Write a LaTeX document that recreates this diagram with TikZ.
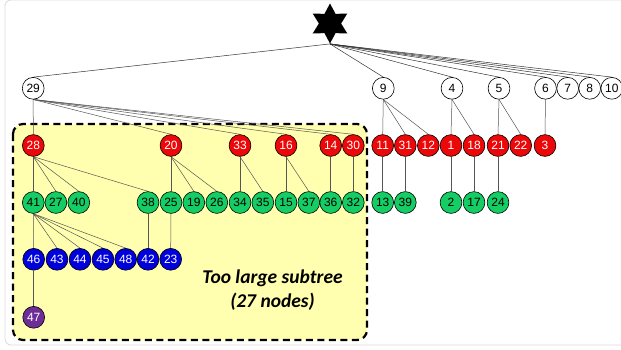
\documentclass[tikz,border=0pt]{standalone}
\usepackage{fontspec}
\setmainfont{Liberation Sans}
\newfontfamily\boxfont{Carlito}
\usetikzlibrary{shapes.geometric}
\pgfdeclarelayer{back}
\pgfdeclarelayer{edges}
\pgfsetlayers{back,edges,main}
\definecolor{cred}{RGB}{236,8,8}
\definecolor{cgreen}{RGB}{20,205,100}
\definecolor{cblue}{RGB}{0,0,220}
\definecolor{cpurple}{RGB}{110,45,150}
\definecolor{cyellow}{RGB}{255,255,175}
\definecolor{cedge}{RGB}{85,85,85}
\tikzset{
  base/.style={circle,draw=black,line width=0.6pt,minimum size=21.8pt,inner sep=0pt,font=\fontsize{12}{12}\selectfont},
  wnode/.style={base,fill=white,text=black},
  rnode/.style={base,fill=cred,text=white},
  gnode/.style={base,fill=cgreen,text=black},
  bnode/.style={base,fill=cblue,text=white},
  pnode/.style={base,fill=cpurple,text=white},
  edge/.style={draw=cedge,line width=0.5pt},
}
\begin{document}
\begin{tikzpicture}[x=1pt,y=-1pt]
\useasboundingbox (0,0) rectangle (621,349);
\begin{pgfonlayer}{back}
\draw[gray!30,line width=0.8pt,rounded corners=6pt] (5,0) rectangle (640,345);
\draw[fill=cyellow,line width=2.2pt,dash pattern=on 7pt off 4.5pt,rounded corners=10pt] (13,124) rectangle (367,340);
\end{pgfonlayer}
% root star
\node[star,star points=6,star point ratio=1.8,minimum size=40pt,inner sep=0pt,fill=black] (root) at (330,23.5) {};
% level 1
\node[wnode] (n29) at (33.2,88.3) {29};
\node[wnode] (n9) at (383.3,88.3) {9};
\node[wnode] (n4) at (452,88.3) {4};
\node[wnode] (n5) at (499,88.3) {5};
\node[wnode] (n6) at (545.5,88.3) {6};
\node[wnode] (n7) at (567.7,88.3) {7};
\node[wnode] (n8) at (589.7,88.3) {8};
\node[wnode] (n10) at (611.8,88.3) {10};
% level 2
\foreach \n/\x in {28/33.3,20/171,33/240,16/286,14/330.7,30/353.3,11/382.7,31/405.3,12/428.3,1/451,18/474,21/498,22/520.7,3/545}
  \node[rnode] (n\n) at (\x,145.5) {\n};
% level 3
\foreach \n/\x in {41/33.3,27/55.9,40/78.8,38/148,25/171,19/193.8,26/216.8,34/240,35/262.8,15/286,37/308.8,36/330.7,32/353.3,13/382.7,39/405.3,2/451,17/474,24/498}
  \node[gnode] (n\n) at (\x,202.5) {\n};
% level 4
\foreach \n/\x in {46/33.7,43/57,44/80,45/103,48/125.7,42/148,23/170.7}
  \node[bnode] (n\n) at (\x,259.3) {\n};
% level 5
\node[pnode] (n47) at (33.7,317.3) {47};
% edges
\begin{pgfonlayer}{edges}
\foreach \c in {29,9,4,5,6,7,8,10}
  \draw[edge,draw=black!80] (root.south) -- (n\c.north);
\foreach \p/\c in {29/28,29/20,29/33,29/16,29/14,29/30,9/11,9/31,9/12,4/1,4/18,5/21,5/22,6/3,
  28/41,28/27,28/40,28/38,20/25,20/19,20/26,33/34,33/35,16/15,16/37,14/36,30/32,11/13,31/39,1/2,18/17,21/24,
  41/46,41/43,41/44,41/45,41/48,38/42,25/23,46/47}
  \draw[edge] (n\p.south) -- (n\c.north);
\end{pgfonlayer}
% label
\node[align=center,font=\boxfont\bfseries\itshape\fontsize{19.5}{23.5}\selectfont] (lbl) at (272.5,290) {Too large subtree\\(27 nodes)};
\end{tikzpicture}
\end{document}
